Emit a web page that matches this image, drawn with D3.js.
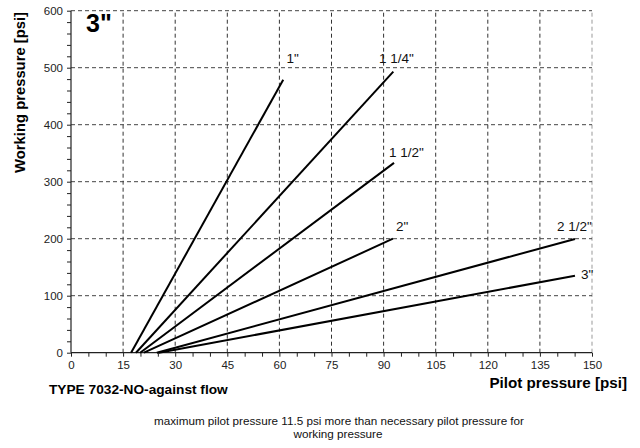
<!DOCTYPE html>
<html><head><meta charset="utf-8">
<script src="https://cdn.jsdelivr.net/npm/d3@7"></script>
<style>body{margin:0;background:#fff}svg{display:block;font-family:"Liberation Sans",Arial,sans-serif}</style>
</head><body><svg id="c" width="640" height="448"></svg>
<script>
const sizes = ['1"', '1 1/4"', '1 1/2"', '2"', '2 1/2"', '3"'];
const startPilot = [17.3, 18.7, 19.9, 21.0, 24.7, 25.3];
const endPilot = [61.1, 92.8, 93.0, 92.7, 145.1, 145.1];
const endWorking = [479, 493, 333, 200, 199.5, 135];
const xTicks = [0, 15, 30, 45, 60, 75, 90, 105, 120, 135, 150];
const yTicks = [0, 100, 200, 300, 400, 500, 600];

const svg = d3.select('#c');
const x = d3.scaleLinear().domain([0, 150]).range([71, 592]);
const y = d3.scaleLinear().domain([0, 600]).range([352.7, 10.7]);

// grid
const g = svg.append('g');
g.selectAll('.gx').data(xTicks.slice(1)).enter().append('line')
  .attr('x1', d => x(d)).attr('x2', d => x(d)).attr('y1', y(0)).attr('y2', y(600))
  .attr('stroke', d => d === 150 ? '#999' : '#333').attr('stroke-width', 1).attr('stroke-dasharray', '4,3');
g.selectAll('.gy').data(yTicks.slice(1)).enter().append('line')
  .attr('x1', x(0)).attr('x2', x(150)).attr('y1', d => y(d)).attr('y2', d => y(d))
  .attr('stroke', '#444').attr('stroke-width', 1).attr('stroke-dasharray', '4,3');

// axes
const xMinor = d3.range(0, 151, 5);
const yMinor = d3.range(0, 601, 20);
const xAxis = svg.append('g').attr('transform', `translate(0,${y(0)})`)
  .call(d3.axisBottom(x).tickValues(xMinor).tickSize(4).tickFormat(d => xTicks.includes(d) ? d : ''));
const yAxis = svg.append('g').attr('transform', `translate(${x(0)},0)`)
  .call(d3.axisLeft(y).tickValues(yMinor).tickSize(4).tickFormat(d => yTicks.includes(d) ? d : ''));
[xAxis, yAxis].forEach(a => {
  a.select('.domain').attr('stroke', '#222').attr('stroke-width', 1.2);
  a.selectAll('.tick line').attr('stroke', '#222');
  a.selectAll('.tick text').attr('font-size', 11.5).attr('fill', '#222')
    .attr('font-family', '"Liberation Sans",Arial,sans-serif');
});
xAxis.select('.domain').attr('d', `M${x(0)},0H${x(150)}`);
yAxis.select('.domain').attr('d', `M0,${y(0)}V${y(600)}`);
xAxis.selectAll('.tick text').attr('y', 8).attr('dy', '0.71em');
yAxis.selectAll('.tick text').attr('x', -8);

// lines
sizes.forEach((s, i) => {
  svg.append('line')
    .attr('x1', x(startPilot[i])).attr('y1', y(0))
    .attr('x2', x(endPilot[i])).attr('y2', y(endWorking[i]))
    .attr('stroke', '#000').attr('stroke-width', 2);
});

// labels for curves
const labelPos = [[286.5, 62.5], [379, 63], [389, 157], [396, 230.5], [557, 231], [581, 279]];
sizes.forEach((s, i) => {
  svg.append('text').attr('x', labelPos[i][0]).attr('y', labelPos[i][1])
    .attr('font-size', 13.5).attr('fill', '#111').text(s);
});

svg.append('text').attr('x', 86).attr('y', 32).attr('font-size', 25).attr('font-weight', 'bold').text('3"');

svg.append('text').attr('transform', 'translate(25,12) rotate(-90)').attr('text-anchor', 'end')
  .attr('font-size', 14.8).attr('font-weight', 'bold').text('Working pressure [psi]');
svg.append('text').attr('x', 627).attr('y', 388).attr('text-anchor', 'end')
  .attr('font-size', 15.2).attr('font-weight', 'bold').text('Pilot pressure [psi]');
svg.append('text').attr('x', 49).attr('y', 393.5).attr('font-size', 13.7).attr('font-weight', 'bold')
  .text('TYPE 7032-NO-against flow');

svg.append('text').attr('x', 339).attr('y', 425).attr('text-anchor', 'middle').attr('font-size', 11.7).attr('fill', '#111')
  .text('maximum pilot pressure 11.5 psi more than necessary pilot pressure for');
svg.append('text').attr('x', 338).attr('y', 438).attr('text-anchor', 'middle').attr('font-size', 11.7).attr('fill', '#111')
  .text('working pressure');
</script></body></html>
